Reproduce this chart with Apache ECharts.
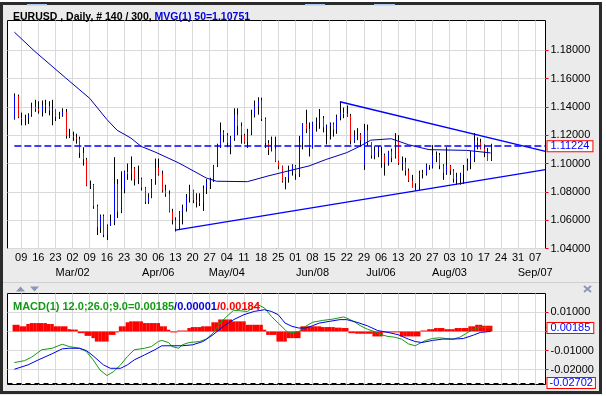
<!DOCTYPE html>
<html>
<head>
<meta charset="utf-8">
<script src="https://cdn.jsdelivr.net/npm/echarts@6/dist/echarts.min.js"></script>
<style>
  html, body { margin: 0; padding: 0; background: #fff; }
  #chart { width: 606px; height: 396px; }
</style>
</head>
<body>
<div id="chart"></div>
<script>
// daily bars, EURUSD: date, open, high, low, close
const priceBars = [
  ['02-05',1.1318,1.1495,1.1310,1.1478],['02-06',1.1475,1.1487,1.1320,1.1330],
  ['02-09',1.1322,1.1360,1.1270,1.1318],['02-10',1.1318,1.1345,1.1270,1.1325],['02-11',1.1325,1.1355,1.1280,1.1340],
  ['02-12',1.1340,1.1430,1.1330,1.1400],['02-13',1.1400,1.1450,1.1365,1.1385],
  ['02-16',1.1385,1.1440,1.1352,1.1370],['02-17',1.1370,1.1445,1.1332,1.1410],['02-18',1.1410,1.1450,1.1356,1.1405],
  ['02-19',1.1405,1.1440,1.1340,1.1375],['02-20',1.1375,1.1450,1.1270,1.1385],
  ['02-23',1.1385,1.1385,1.1300,1.1330],['02-24',1.1330,1.1365,1.1315,1.1345],['02-25',1.1345,1.1390,1.1330,1.1365],
  ['02-26',1.1365,1.1385,1.1176,1.1195],['02-27',1.1195,1.1245,1.1180,1.1195],
  ['03-02',1.1195,1.1225,1.1160,1.1185],['03-03',1.1185,1.1210,1.1140,1.1175],['03-04',1.1175,1.1190,1.1040,1.1075],
  ['03-05',1.1075,1.1115,1.0985,1.1030],['03-06',1.1030,1.1040,1.0840,1.0845],
  ['03-09',1.0845,1.0880,1.0820,1.0850],['03-10',1.0850,1.0856,1.0680,1.0700],['03-11',1.0700,1.0710,1.0495,1.0550],
  ['03-12',1.0550,1.0640,1.0510,1.0630],['03-13',1.0630,1.0640,1.0480,1.0495],
  ['03-16',1.0495,1.0570,1.0460,1.0565],['03-17',1.0565,1.0640,1.0560,1.0595],['03-18',1.0595,1.1045,1.0565,1.0855],
  ['03-19',1.0855,1.0890,1.0615,1.0660],['03-20',1.0660,1.0945,1.0650,1.0820],
  ['03-23',1.0820,1.0950,1.0790,1.0940],['03-24',1.0940,1.1000,1.0885,1.0925],['03-25',1.0925,1.1050,1.0880,1.0965],
  ['03-26',1.0965,1.0975,1.0845,1.0890],['03-27',1.0890,1.0985,1.0855,1.0890],
  ['03-30',1.0890,1.0900,1.0810,1.0830],['03-31',1.0830,1.0835,1.0715,1.0730],['04-01',1.0730,1.0790,1.0715,1.0760],
  ['04-02',1.0760,1.0890,1.0755,1.0880],['04-03',1.0880,1.1035,1.0850,1.0970],
  ['04-06',1.0970,1.1035,1.0915,1.0925],['04-07',1.0925,1.0950,1.0795,1.0810],['04-08',1.0810,1.0850,1.0765,1.0785],
  ['04-09',1.0785,1.0810,1.0655,1.0660],['04-10',1.0660,1.0680,1.0570,1.0600],
  ['04-13',1.0600,1.0620,1.0520,1.0540],['04-14',1.0540,1.0665,1.0530,1.0660],['04-15',1.0660,1.0710,1.0570,1.0685],
  ['04-16',1.0685,1.0785,1.0660,1.0765],['04-17',1.0765,1.0850,1.0725,1.0810],
  ['04-20',1.0810,1.0815,1.0720,1.0740],['04-21',1.0740,1.0790,1.0690,1.0730],['04-22',1.0730,1.0790,1.0700,1.0725],
  ['04-23',1.0725,1.0845,1.0665,1.0825],['04-24',1.0825,1.0890,1.0785,1.0870],
  ['04-27',1.0870,1.0900,1.0820,1.0885],['04-28',1.0885,1.0990,1.0870,1.0985],['04-29',1.0985,1.1140,1.0975,1.1125],
  ['04-30',1.1125,1.1290,1.1110,1.1220],['05-01',1.1220,1.1235,1.1150,1.1200],
  ['05-04',1.1200,1.1215,1.1115,1.1145],['05-05',1.1145,1.1195,1.1065,1.1180],['05-06',1.1180,1.1390,1.1160,1.1345],
  ['05-07',1.1345,1.1390,1.1200,1.1265],['05-08',1.1265,1.1290,1.1140,1.1200],
  ['05-11',1.1200,1.1210,1.1140,1.1150],['05-12',1.1150,1.1245,1.1110,1.1220],['05-13',1.1220,1.1380,1.1200,1.1345],
  ['05-14',1.1345,1.1445,1.1325,1.1405],['05-15',1.1405,1.1468,1.1345,1.1445],
  ['05-18',1.1445,1.1465,1.1300,1.1315],['05-19',1.1315,1.1325,1.1110,1.1145],['05-20',1.1145,1.1165,1.1060,1.1095],
  ['05-21',1.1095,1.1190,1.1085,1.1105],['05-22',1.1105,1.1190,1.1010,1.1015],
  ['05-25',1.1015,1.1020,1.0960,1.0980],['05-26',1.0980,1.0985,1.0865,1.0875],['05-27',1.0875,1.0905,1.0818,1.0900],
  ['05-28',1.0900,1.0985,1.0865,1.0945],['05-29',1.0945,1.0995,1.0915,1.0985],
  ['06-01',1.0985,1.0990,1.0885,1.0925],['06-02',1.0925,1.1195,1.0905,1.1150],['06-03',1.1150,1.1285,1.1100,1.1280],
  ['06-04',1.1280,1.1380,1.1215,1.1245],['06-05',1.1245,1.1290,1.1050,1.1110],
  ['06-08',1.1110,1.1295,1.1105,1.1290],['06-09',1.1290,1.1325,1.1225,1.1290],['06-10',1.1290,1.1385,1.1245,1.1320],
  ['06-11',1.1320,1.1335,1.1220,1.1255],['06-12',1.1255,1.1275,1.1135,1.1265],
  ['06-15',1.1265,1.1290,1.1170,1.1280],['06-16',1.1280,1.1290,1.1190,1.1240],['06-17',1.1240,1.1345,1.1210,1.1330],
  ['06-18',1.1330,1.1436,1.1305,1.1360],['06-19',1.1360,1.1395,1.1320,1.1350],
  ['06-22',1.1350,1.1410,1.1330,1.1340],['06-23',1.1340,1.1350,1.1135,1.1160],['06-24',1.1160,1.1235,1.1145,1.1200],
  ['06-25',1.1200,1.1250,1.1165,1.1205],['06-26',1.1205,1.1215,1.1120,1.1165],
  ['06-29',1.0990,1.1280,1.0955,1.1235],['06-30',1.1235,1.1275,1.1125,1.1145],['07-01',1.1145,1.1150,1.1035,1.1055],
  ['07-02',1.1055,1.1120,1.1030,1.1090],['07-03',1.1090,1.1125,1.1045,1.1110],
  ['07-06',1.1000,1.1120,1.0970,1.1060],['07-07',1.1060,1.1070,1.0915,1.1005],['07-08',1.1005,1.1090,1.0985,1.1085],
  ['07-09',1.1085,1.1105,1.1010,1.1040],['07-10',1.1040,1.1215,1.1035,1.1160],
  ['07-13',1.1160,1.1200,1.0990,1.1000],['07-14',1.1000,1.1050,1.0950,1.1010],['07-15',1.1010,1.1040,1.0915,1.0950],
  ['07-16',1.0950,1.0965,1.0870,1.0880],['07-17',1.0880,1.0920,1.0830,1.0830],
  ['07-20',1.0830,1.0860,1.0808,1.0830],['07-21',1.0830,1.0950,1.0810,1.0935],['07-22',1.0935,1.0955,1.0895,1.0930],
  ['07-23',1.0930,1.1000,1.0915,1.0985],['07-24',1.0985,1.0990,1.0955,1.0980],
  ['07-27',1.0980,1.1130,1.0965,1.1060],['07-28',1.1060,1.1085,1.1010,1.1060],['07-29',1.1060,1.1075,1.0960,1.0985],
  ['07-30',1.0985,1.0995,1.0885,1.0935],['07-31',1.0935,1.1115,1.0920,1.0985],
  ['08-03',1.0985,1.0990,1.0920,1.0950],['08-04',1.0950,1.0960,1.0865,1.0890],['08-05',1.0890,1.0935,1.0850,1.0905],
  ['08-06',1.0905,1.0935,1.0850,1.0925],['08-07',1.0925,1.0990,1.0855,1.0965],
  ['08-10',1.0965,1.1035,1.0950,1.1015],['08-11',1.1015,1.1090,1.0960,1.1045],['08-12',1.1045,1.1215,1.1010,1.1160],
  ['08-13',1.1160,1.1185,1.1100,1.1150],['08-14',1.1150,1.1175,1.1100,1.1105],
  ['08-17',1.1105,1.1135,1.1045,1.1085],['08-18',1.1085,1.1110,1.1020,1.1025],['08-19',1.1025,1.1140,1.1018,1.11224]
];

// MVG(1) 50
const maPoints = [
  ['02-05',1.1928],['02-13',1.1791],['02-26',1.1604],['03-09',1.1460],['03-16',1.1311],['03-19',1.1235],
  ['03-25',1.1180],['03-30',1.1121],['04-03',1.1082],['04-14',1.1004],['04-24',1.0898],['04-29',1.0875],
  ['05-12',1.0872],['05-20',1.0912],['05-28',1.0948],['06-05',1.0983],['06-12',1.1029],['06-22',1.1077],
  ['06-26',1.1124],['07-01',1.1165],['07-09',1.1175],['07-16',1.1133],['07-24',1.1098],['08-10',1.1093],
  ['08-19',1.1075]
];

// trend lines
const upperTrend = [['06-18',1.1436],['09-10',1.1086]];
const lowerTrend = [['04-13',1.0530],['09-10',1.0957]];
const lastPrice = 1.11224;

// MACD 12;26;9
const macdLine = [
  ['02-05',-0.0163],['02-10',-0.0153],['02-12',-0.0135],['02-17',-0.0096],['02-20',-0.0088],['02-25',-0.0067],
  ['02-27',-0.0079],['03-04',-0.0088],['03-06',-0.0105],['03-10',-0.0149],['03-12',-0.0202],['03-16',-0.0231],
  ['03-18',-0.0210],['03-20',-0.0175],['03-24',-0.0131],['03-26',-0.0096],['03-31',-0.0088],['04-02',-0.0079],
  ['04-06',-0.0053],['04-07',-0.0047],['04-09',-0.0058],['04-10',-0.0079],['04-14',-0.0088],['04-15',-0.0070],
  ['04-17',-0.0058],['04-22',-0.0053],['04-24',-0.0040],['04-28',-0.0009],['04-30',0.0044],['05-04',0.0079],
  ['05-06',0.0111],['05-12',0.0105],['05-15',0.0141],['05-19',0.0123],['05-21',0.0079],['05-25',0.0044],
  ['05-27',0.0009],['05-28',-0.0009],['06-02',0.0000],['06-04',0.0027],['06-08',0.0048],['06-11',0.0058],
  ['06-16',0.0065],['06-19',0.0076],['06-22',0.0070],['06-24',0.0053],['06-26',0.0030],['06-30',0.0012],
  ['07-02',0.0000],['07-06',-0.0017],['07-08',-0.0026],['07-10',-0.0030],['07-14',-0.0040],['07-16',-0.0065],
  ['07-20',-0.0075],['07-21',-0.0065],['07-23',-0.0047],['07-27',-0.0037],['07-29',-0.0033],['07-31',-0.0037],
  ['08-04',-0.0040],['08-06',-0.0030],['08-10',-0.0009],['08-12',0.0012],['08-14',0.0023],['08-19',0.00185]
];
const signalLine = [
  ['02-05',-0.0198],['02-11',-0.0175],['02-16',-0.0149],['02-20',-0.0117],['02-25',-0.0091],['02-27',-0.0088],
  ['03-04',-0.0088],['03-06',-0.0100],['03-10',-0.0128],['03-13',-0.0175],['03-17',-0.0193],['03-20',-0.0193],
  ['03-24',-0.0175],['03-26',-0.0149],['03-31',-0.0123],['04-03',-0.0096],['04-07',-0.0075],['04-10',-0.0075],
  ['04-15',-0.0075],['04-20',-0.0070],['04-23',-0.0053],['04-28',-0.0017],['05-01',0.0027],['05-06',0.0062],
  ['05-11',0.0088],['05-14',0.0105],['05-19',0.0114],['05-21',0.0105],['05-25',0.0088],['05-27',0.0044],
  ['05-29',0.0027],['06-02',0.0018],['06-04',0.0018],['06-08',0.0030],['06-10',0.0044],['06-15',0.0053],
  ['06-18',0.0062],['06-22',0.0062],['06-25',0.0048],['06-30',0.0030],['07-03',0.0005],['07-08',-0.0005],
  ['07-13',-0.0017],['07-16',-0.0040],['07-20',-0.0053],['07-22',-0.0058],['07-27',-0.0047],['07-30',-0.0040],
  ['08-04',-0.0040],['08-07',-0.0037],['08-12',-0.0019],['08-14',-0.0005],['08-19',0.00001]
];
// histogram, one value per bar of priceBars
const macdHist = [
  0.0035,0.0035,0.0027,0.0027,0.0039,0.0044,0.0044,0.0044,0.0044,0.0044,
  0.0039,0.0039,0.0027,0.0027,0.0027,0.0027,0.0012,0.0010,0.0010,-0.0009,
  -0.0009,-0.0023,-0.0023,-0.0035,-0.0053,-0.0053,-0.0053,-0.0053,-0.0018,-0.0018,
  -0.0005,0.0027,0.0027,0.0048,0.0053,0.0053,0.0053,0.0053,0.0044,0.0044,
  0.0044,0.0044,0.0044,0.0027,0.0027,0.0009,-0.0005,-0.0005,0.0005,0.0005,
  0.0005,0.0018,0.0023,0.0023,0.0023,0.0027,0.0027,0.0027,0.0048,0.0048,
  0.0063,0.0063,0.0063,0.0063,0.0053,0.0053,0.0053,0.0053,0.0035,0.0035,
  0.0035,0.0035,0.0035,0.0009,-0.0018,-0.0018,-0.0018,-0.0053,-0.0053,-0.0053,
  -0.0035,-0.0035,-0.0035,-0.0035,0.0027,0.0027,0.0027,0.0027,0.0027,0.0027,
  0.0023,0.0023,0.0023,0.0023,0.0020,0.0020,0.0018,0.0018,-0.0009,-0.0009,
  -0.0012,-0.0012,-0.0012,-0.0012,-0.0012,-0.0026,-0.0026,-0.0026,-0.0005,-0.0005,
  -0.0005,-0.0005,-0.0005,-0.0026,-0.0026,-0.0026,-0.0026,-0.0026,-0.0026,0.0005,
  0.0005,0.0012,0.0012,0.0018,0.0018,0.0018,0.0012,0.0012,0.0012,0.0018,
  0.0018,0.0018,0.0018,0.0027,0.0027,0.0035,0.0035,0.0030,0.0030,0.0030
];
const macdValues = [0.00185, 0.00001, 0.00184];
const macdLow = -0.02702;

// tick labels
const priceTicks = [1.04, 1.06, 1.08, 1.10, 1.12, 1.14, 1.16, 1.18];
const macdTicks = [-0.02, -0.01, 0, 0.01];
const monthLabels = { '03-02': 'Mar/02', '04-06': 'Apr/06', '05-04': 'May/04', '06-08': 'Jun/08',
  '07-06': 'Jul/06', '08-03': 'Aug/03', '09-07': 'Sep/07' };

// x-axis categories: weekdays
const days = [];
const mondays = new Set();
for (let t = Date.UTC(2015, 1, 3); t <= Date.UTC(2015, 8, 10); t += 86400000) {
  const d = new Date(t);
  const wd = d.getUTCDay();
  if (wd === 0 || wd === 6) continue;
  const key = String(d.getUTCMonth() + 1).padStart(2, '0') + '-' + String(d.getUTCDate()).padStart(2, '0');
  days.push(key);
  if (wd === 1) mondays.add(key);
}
const idx = (k) => days.indexOf(k);
const pairs = (arr) => arr.map(p => [idx(p[0]), p[1]]);

const FONT = "'Liberation Sans', Arial, sans-serif";
const GRID_COLOR = '#d9d9d9';

const chart = echarts.init(document.getElementById('chart'), null, { renderer: 'canvas' });

const xAxisBase = {
  type: 'category',
  data: days,
  boundaryGap: false,
  position: 'bottom',
  axisLine: { show: false },
  axisTick: { show: false },
  splitLine: {
    show: true,
    interval: (i, v) => mondays.has(v),
    lineStyle: { color: GRID_COLOR, width: 1 }
  }
};

const boxLabel = (text, pad) => ({
  show: true,
  position: 'end',
  distance: 2,
  formatter: text,
  color: '#0000ff',
  fontSize: 11,
  fontFamily: FONT,
  lineHeight: 10,
  backgroundColor: '#fff',
  borderColor: '#ff0000',
  borderWidth: 1,
  padding: [0, pad]
});

const labelStyle = { color: '#000', fontSize: 11, fontFamily: FONT };

const option = {
  animation: false,
  backgroundColor: '#fff',
  textStyle: { fontFamily: FONT },
  title: [
    {
      left: 8, top: 7,
      text: '{a|EURUSD , Daily, # 140 / 300, }{b|MVG(1) 50=1.10751}',
      textStyle: {
        rich: {
          a: { color: '#000', fontSize: 10.5, fontFamily: FONT },
          b: { color: '#0000dd', fontSize: 10.5, fontFamily: FONT }
        }
      }
    },
    {
      left: 8, top: 296,
      text: '{g|MACD(1) 12.0;26.0;9.0=' + macdValues[0].toFixed(5) + '}{b|/' + macdValues[1].toFixed(5) + '}{r|/' + macdValues[2].toFixed(5) + '}',
      textStyle: {
        rich: {
          g: { color: '#139a13', fontSize: 11, fontFamily: FONT },
          b: { color: '#0000dd', fontSize: 11, fontFamily: FONT },
          r: { color: '#ff0000', fontSize: 11, fontFamily: FONT }
        }
      }
    }
  ],
  grid: [
    { left: 7.5, top: 20.5, width: 538, height: 228, show: true, backgroundColor: '#fff', borderColor: '#000', borderWidth: 1 },
    { left: 7.5, top: 293.5, width: 538, height: 91, show: true, backgroundColor: '#fff', borderColor: '#000', borderWidth: 1 }
  ],
  xAxis: [
    Object.assign({}, xAxisBase, {
      gridIndex: 0,
      axisLabel: Object.assign({
        show: true,
        interval: (i, v) => mondays.has(v),
        showMinLabel: true, showMaxLabel: true,
        margin: 4,
        formatter: v => v.slice(3)
      }, labelStyle)
    }),
    Object.assign({}, xAxisBase, { gridIndex: 1, axisLabel: { show: false } }),
    Object.assign({}, xAxisBase, {
      gridIndex: 0,
      offset: 15,
      splitLine: { show: false },
      axisLabel: Object.assign({
        show: true,
        interval: (i, v) => !!monthLabels[v],
        showMinLabel: true, showMaxLabel: true,
        margin: 4,
        formatter: v => monthLabels[v] || ''
      }, labelStyle)
    })
  ],
  yAxis: [
    {
      gridIndex: 0, type: 'value', position: 'right',
      min: 1.04, max: 1.201, interval: 0.02,
      axisLine: { show: false },
      axisTick: { show: true, length: 3, customValues: priceTicks, lineStyle: { color: '#ff0000' } },
      splitLine: { show: true, lineStyle: { color: GRID_COLOR } },
      axisLabel: Object.assign({
        margin: 5,
        customValues: priceTicks,
        formatter: v => v.toFixed(5)
      }, labelStyle)
    },
    {
      gridIndex: 1, type: 'value', position: 'right',
      min: -0.0278, max: 0.0199, splitNumber: 5,
      axisLine: { show: false },
      axisTick: { show: true, length: 3, customValues: macdTicks, lineStyle: { color: '#ff0000' } },
      splitLine: { show: true, lineStyle: { color: GRID_COLOR } },
      axisLabel: Object.assign({
        margin: 5,
        customValues: macdTicks,
        formatter: v => v.toFixed(5)
      }, labelStyle)
    }
  ],
  series: [
    {
      name: 'EURUSD',
      type: 'custom',
      xAxisIndex: 0, yAxisIndex: 0,
      data: priceBars.map(b => [idx(b[0]), b[1], b[2], b[3], b[4]]),
      encode: { x: 0, y: [1, 2, 3, 4] },
      renderItem: function (params, api) {
        const i = api.value(0);
        const o = api.coord([i, api.value(1)]);
        const h = api.coord([i, api.value(2)]);
        const l = api.coord([i, api.value(3)]);
        const c = api.coord([i, api.value(4)]);
        const x = Math.round(o[0]) + 0.5;
        const up = api.value(4) >= api.value(1);
        let y1 = Math.min(o[1], c[1]), y2 = Math.max(o[1], c[1]);
        if (y2 - y1 < 1) y2 = y1 + 1;
        return {
          type: 'group',
          children: [
            { type: 'line', shape: { x1: x, y1: h[1], x2: x, y2: l[1] }, style: { stroke: '#000', lineWidth: 1 } },
            { type: 'line', shape: { x1: x, y1: y1, x2: x, y2: y2 }, style: { stroke: up ? '#0000ff' : '#ff0000', lineWidth: 1 } }
          ]
        };
      }
    },
    {
      name: 'MVG 50', type: 'line', xAxisIndex: 0, yAxisIndex: 0,
      data: pairs(maPoints), showSymbol: false, connectNulls: true,
      lineStyle: { color: '#0000b4', width: 1 }, z: 3
    },
    {
      name: 'upper', type: 'line', xAxisIndex: 0, yAxisIndex: 0,
      data: pairs(upperTrend), showSymbol: false,
      lineStyle: { color: '#0000ff', width: 1.4 }, z: 3,
      markLine: {
        silent: true, symbol: 'none', precision: 5,
        data: [[
          { coord: [idx(priceBars[0][0]), lastPrice] },
          { coord: [days.length - 1, lastPrice] }
        ]],
        lineStyle: { color: '#0000ff', type: [7, 3], width: 1.5 },
        label: boxLabel(lastPrice.toFixed(5), 3)
      }
    },
    {
      name: 'lower', type: 'line', xAxisIndex: 0, yAxisIndex: 0,
      data: pairs(lowerTrend), showSymbol: false,
      lineStyle: { color: '#0000ff', width: 1.4 }, z: 3
    },
    {
      name: 'hist', type: 'bar', xAxisIndex: 1, yAxisIndex: 1,
      data: priceBars.map((b, k) => [idx(b[0]), macdHist[k]]),
      barWidth: 3.5,
      itemStyle: { color: '#ff0000' }
    },
    {
      name: 'MACD', type: 'line', xAxisIndex: 1, yAxisIndex: 1,
      data: pairs(macdLine), showSymbol: false, connectNulls: true,
      lineStyle: { color: '#139a13', width: 1 }, z: 3,
      markLine: {
        silent: true, symbol: 'none', precision: 5,
        data: [
          { yAxis: macdValues[0], lineStyle: { color: 'rgba(0,0,0,0)', width: 1 }, label: boxLabel(macdValues[0].toFixed(5), 3) },
          { yAxis: macdLow, lineStyle: { color: '#000', type: [5, 4], width: 1 }, label: boxLabel(macdLow.toFixed(5), 2) }
        ]
      }
    },
    {
      name: 'signal', type: 'line', xAxisIndex: 1, yAxisIndex: 1,
      data: pairs(signalLine), showSymbol: false, connectNulls: true,
      lineStyle: { color: '#0000e0', width: 1 }, z: 3
    }
  ],
  graphic: [
    { type: 'rect', z: -100, shape: { x: 0, y: 2, width: 602, height: 393 }, style: { fill: '#ebebeb' } },
    { type: 'line', z: 1, shape: { x1: 3, y1: 282.5, x2: 599, y2: 282.5 }, style: { stroke: '#cfcfcf', lineWidth: 1 } },
    { type: 'polygon', z: 1, shape: { points: [[16, 291.5], [20.5, 286.5], [25, 291.5]] }, style: { fill: '#8b97b3' } },
    { type: 'polygon', z: 1, shape: { points: [[30, 286.5], [39, 286.5], [34.5, 291.5]] }, style: { fill: '#8b97b3' } },
    { type: 'line', z: 1, shape: { x1: 584, y1: 286, x2: 591, y2: 292 }, style: { stroke: '#8b97b3', lineWidth: 2 } },
    { type: 'line', z: 1, shape: { x1: 591, y1: 286, x2: 584, y2: 292 }, style: { stroke: '#8b97b3', lineWidth: 2 } },
    { type: 'rect', z: 100, shape: { x: 1.5, y: 3.5, width: 599, height: 389 }, style: { fill: null, stroke: '#2b2b2b', lineWidth: 3 } },
    { type: 'rect', z: 101, shape: { x: 27, y: 4, width: 20, height: 1.5 }, style: { fill: '#a9c9ee' } },
    { type: 'rect', z: 101, shape: { x: 305, y: 4, width: 20, height: 1.5 }, style: { fill: '#a9c9ee' } },
    { type: 'rect', z: 101, shape: { x: 374, y: 4, width: 21, height: 1.5 }, style: { fill: '#a9c9ee' } }
  ]
};

chart.setOption(option);
</script>
</body>
</html>
